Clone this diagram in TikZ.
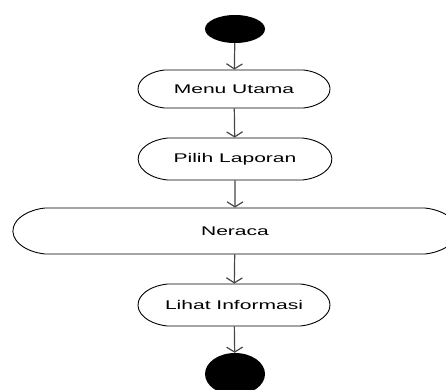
\documentclass[tikz,border=0pt]{standalone}
\usepackage{fontspec}
\setmainfont{Liberation Sans}
\usetikzlibrary{shapes.misc,shapes.geometric,arrows.meta}
\begin{document}
\begin{tikzpicture}[x=1pt,y=-1pt,
  act/.style={rounded rectangle, rounded rectangle arc length=160, draw=black, line width=0.9pt, fill=white, xscale=1.67, font=\fontsize{12.6}{14}\selectfont, inner sep=0pt},
  blob/.style={ellipse, fill=black, draw=none, minimum width=60pt, inner sep=0pt},
  flow/.style={draw=black!72, line width=1.2pt, -{Straight Barb[length=5pt,width=16pt]}}]
\useasboundingbox (0,0) rectangle (446,389);
\node[blob, minimum height=28pt] (start) at (235,29) {};
\node[act, minimum width=115pt, minimum height=38pt] (menu) at (234,89) {Menu Utama};
\node[act, minimum width=116pt, minimum height=42pt] (pilih) at (235,159) {Pilih Laporan};
\node[act, minimum width=266pt, minimum height=46pt] (neraca) at (235,231) {Neraca};
\node[act, minimum width=115pt, minimum height=42pt] (lihat) at (234,305) {Lihat Informasi};
\node[blob, minimum height=42pt] (end) at (235,374) {};
\draw[flow] (start) -- (menu);
\draw[flow] (menu) -- (pilih);
\draw[flow] (pilih) -- (neraca);
\draw[flow] (neraca) -- (lihat);
\draw[flow] (lihat) -- (end);
\end{tikzpicture}
\end{document}
